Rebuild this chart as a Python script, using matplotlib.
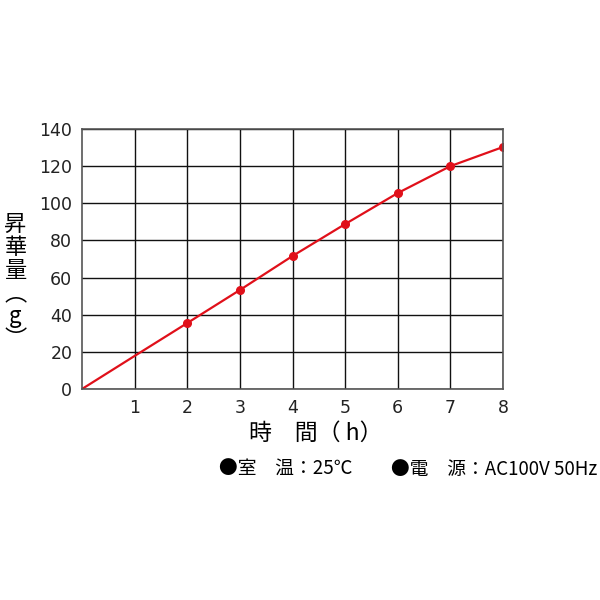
import matplotlib
matplotlib.use('Agg')
import matplotlib.pyplot as plt

plt.rcParams['font.family'] = ['Noto Sans CJK JP', 'DejaVu Sans']

# 時間(h) と 昇華量(g)
hours = [0, 1, 2, 3, 4, 5, 6, 7, 8]
amount = [0, 17.8, 35.5, 53.3, 71.6, 88.8, 105.5, 120, 130.3]
mark_hours = [2, 3, 4, 5, 6, 7, 8]
mark_amount = [35.5, 53.3, 71.6, 88.8, 105.5, 120, 130.3]
xticks = [1, 2, 3, 4, 5, 6, 7, 8]
yticks = [0, 20, 40, 60, 80, 100, 120, 140]

fig = plt.figure(figsize=(6, 6), dpi=100)
ax = fig.add_axes([0.1367, 0.3517, 0.7016, 0.4333])

ax.plot(hours, amount, color='#e0101a', lw=1.6, solid_capstyle='round')
ax.plot(mark_hours, mark_amount, 'o', color='#e0101a', ms=5.5)

ax.set_xlim(0, 8)
ax.set_ylim(0, 140)
ax.set_xticks(xticks)
ax.set_yticks(yticks)
ax.grid(True, color='#111111', lw=1.0)
ax.tick_params(length=0, pad=7, colors='#222222')
for lab in ax.get_xticklabels() + ax.get_yticklabels():
    lab.set_family('DejaVu Sans')
    lab.set_fontsize(12.5)
for s in ax.spines.values():
    s.set_color('#555555')
    s.set_linewidth(1.2)

fig.text(0.526, 0.278, '時\u3000間（ h）', ha='center', va='center', fontsize=16.5)
fig.text(0.026, 0.53, '昇\n華\n量\n︵\ng\n︶', ha='center', va='center',
         fontsize=16, linespacing=1.0)
fig.text(0.365, 0.218, '●室\u3000温：25℃', ha='left', va='center', fontsize=13.5)
fig.text(0.652, 0.218, '●電\u3000源：AC100V 50Hz', ha='left', va='center', fontsize=13.5)

fig.savefig('out.png', dpi=100)
